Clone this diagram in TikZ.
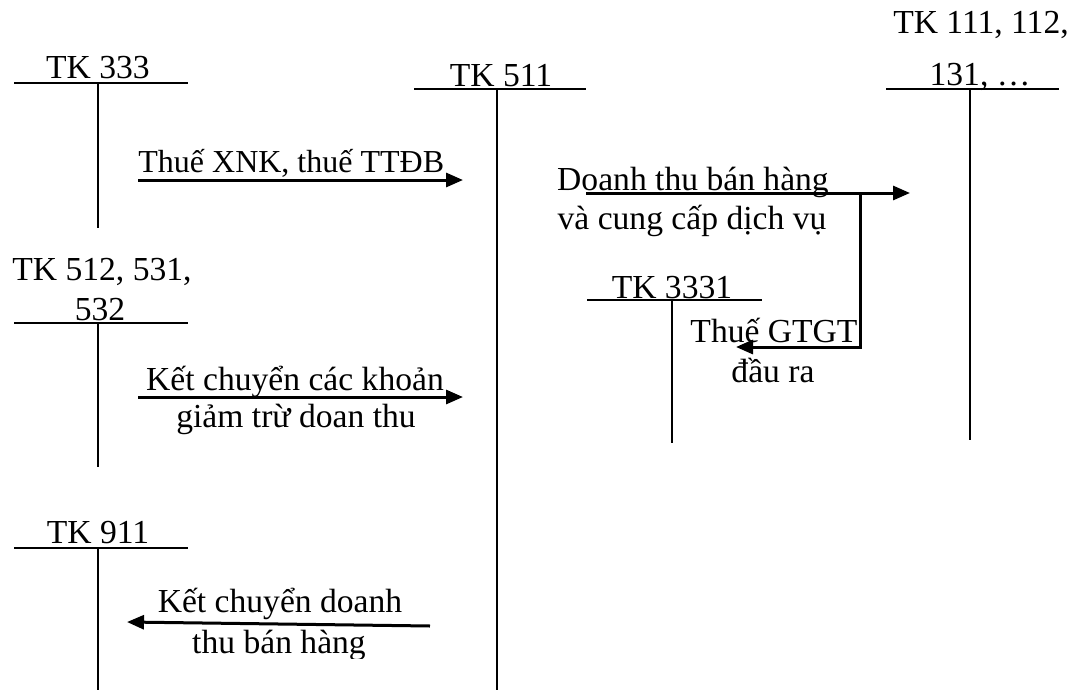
\documentclass[tikz,border=0pt]{standalone}
\usepackage{fontspec}
\setmainfont{Liberation Serif}
\usetikzlibrary{arrows.meta}

\tikzset{
  acc/.style={line width=0.85pt},
  flow/.style={line width=1.5pt,-{Triangle[length=8.5pt,width=7pt]}},
  lbl/.style={inner sep=0pt,font=\fontsize{16.8}{20}\selectfont,align=center}
}

\begin{document}
\begin{tikzpicture}[x=0.5pt,y=-0.5pt]
\useasboundingbox (0,0) rectangle (1083,691);

% T-accounts
\coordinate (t333) at (98,83);
\node[lbl,anchor=base] (k333) at (98,78) {TK 333};
\draw[acc] (14,83) -- (188,83) (t333) -- (98,228);

\coordinate (t511) at (497,89);
\node[lbl,anchor=base] (k511) at (501,86) {TK 511};
\draw[acc] (414,89) -- (586,89) (t511) -- (497,690);

\coordinate (t111) at (970,89);
\node[lbl,anchor=base] (k111a) at (981,33) {TK 111, 112,};
\node[lbl,anchor=base] (k111b) at (980,85) {131, \dots};
\draw[acc] (886,89) -- (1059,89) (t111) -- (970,440);

\coordinate (t512) at (98,323);
\node[lbl,anchor=base] (k512a) at (102,280) {TK 512, 531,};
\node[lbl,anchor=base] (k512b) at (100,320) {532};
\draw[acc] (14,323) -- (188,323) (t512) -- (98,467);

\coordinate (t3331) at (672,300);
\node[lbl,anchor=base] (k3331) at (672,298) {TK 3331};
\draw[acc] (587,300) -- (762,300) (t3331) -- (672,443);

\coordinate (t911) at (98,548);
\node[lbl,anchor=base] (k911) at (98,543) {TK 911};
\draw[acc] (14,548) -- (188,548) (t911) -- (98,690);

% entries
\coordinate (s1) at (138,180);
\coordinate (e1) at (463,180);
\draw[flow] (s1) -- (e1);
\node[lbl,font=\fontsize{16}{20}\selectfont,anchor=base west] (n1) at (138,172) {Thuế XNK, thuế TTĐB};

\coordinate (s2) at (138,397);
\coordinate (e2) at (463,397);
\draw[flow] (s2) -- (e2);
\node[lbl,anchor=base] (n2a) at (295,390) {Kết chuyển các khoản};
\node[lbl,anchor=base] (n2b) at (296,427) {giảm trừ doan thu};

\coordinate (s3) at (586,193);
\coordinate (e3) at (910,193);
\draw[flow] (s3) -- (e3);
\node[lbl,anchor=base] (n3a) at (693,190) {Doanh thu bán hàng};
\node[lbl,anchor=base] (n3b) at (692,229) {và cung cấp dịch vụ};

\coordinate (b3) at (860,193);
\coordinate (e4) at (736,347);
\draw[flow] (b3) |- (e4);
\node[lbl,anchor=base] (n4a) at (774,342) {Thuế GTGT};
\node[lbl,anchor=base] (n4b) at (773,382) {đầu ra};

\coordinate (s5) at (430,626);
\coordinate (e5) at (127,622);
\draw[flow] (s5) -- (e5);
\node[lbl,anchor=base] (n5a) at (280,612) {Kết chuyển doanh};
\begin{scope}
  \clip (150,625) rectangle (420,658);
  \node[lbl,anchor=base] (n5b) at (279,653) {thu bán hàng};
\end{scope}
\end{tikzpicture}
\end{document}
